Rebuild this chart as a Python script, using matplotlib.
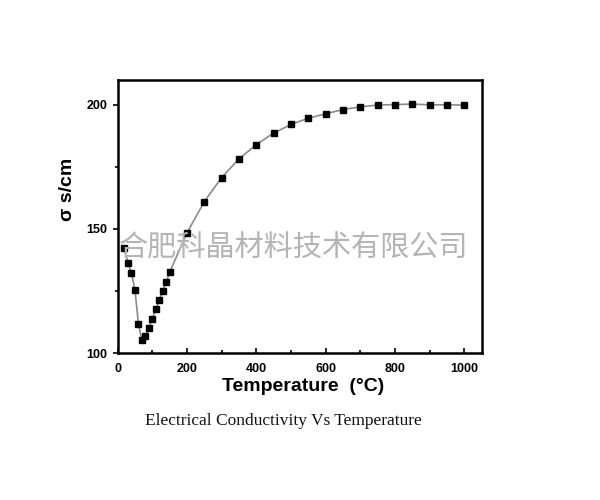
import matplotlib
matplotlib.use("Agg")
import matplotlib.pyplot as plt
from matplotlib.ticker import MultipleLocator

temperature = [18, 30, 40, 50, 60, 70, 80, 90, 100, 110, 120, 130, 140, 150,
               200, 250, 300, 350, 400, 450, 500, 550, 600, 650, 700, 750,
               800, 850, 900, 950, 1000]
sigma = [142.5, 136.4, 132.1, 125.5, 111.8, 105.1, 106.9, 110.2, 113.8, 117.6,
         121.2, 125.0, 128.5, 132.5, 148.4, 161.0, 170.7, 178.2, 184.0, 188.6,
         192.1, 194.6, 196.4, 198.1, 199.2, 199.9, 200.1, 200.3, 200.0, 200.0,
         199.9]
x_ticks = [0, 200, 400, 600, 800, 1000]
y_ticks = [100, 150, 200]

fig = plt.figure(figsize=(6, 5), dpi=100)
fig.patch.set_facecolor("white")
ax = fig.add_axes([0.196, 0.294, 0.607, 0.546])

ax.plot(temperature, sigma, color="#8a8a8a", linewidth=1.2, zorder=2)
ax.plot(temperature, sigma, linestyle="none", marker="s", markersize=4.5,
        color="black", zorder=3)

ax.set_xlim(0, 1050)
ax.set_ylim(100, 210)
ax.set_xticks(x_ticks)
ax.set_yticks(y_ticks)
ax.xaxis.set_minor_locator(MultipleLocator(100))
ax.yaxis.set_minor_locator(MultipleLocator(25))
ax.tick_params(axis="x", which="both", direction="in", width=1.2, pad=7)
ax.tick_params(axis="y", which="both", direction="out", width=1.2, pad=4)
ax.tick_params(which="major", length=3.5)
ax.tick_params(which="minor", length=2)
for lab in ax.get_xticklabels() + ax.get_yticklabels():
    lab.set_fontfamily("Liberation Sans")
    lab.set_fontweight("bold")
    lab.set_fontsize(9)
for sp in ax.spines.values():
    sp.set_linewidth(1.8)

ax.set_xlabel("Temperature  (°C)", fontfamily="Liberation Sans",
              fontweight="bold", fontsize=14)
ax.xaxis.set_label_coords(0.51, -0.09)
ax.set_ylabel("σ s/cm", fontfamily="Liberation Sans",
              fontweight="bold", fontsize=14)
ax.yaxis.set_label_coords(-0.115, 0.6)

fig.text(0.49, 0.502, "合肥科晶材料技术有限公司", fontsize=21,
         family=["Noto Sans CJK SC", "DejaVu Sans"], color="#b4b4b4",
         ha="center", va="center", zorder=10, fontweight="light")

fig.text(0.473, 0.158, "Electrical Conductivity Vs Temperature",
         fontfamily="Liberation Serif", fontsize=12.5, ha="center",
         va="center", color="#111111")

fig.savefig("out.png", dpi=100)
